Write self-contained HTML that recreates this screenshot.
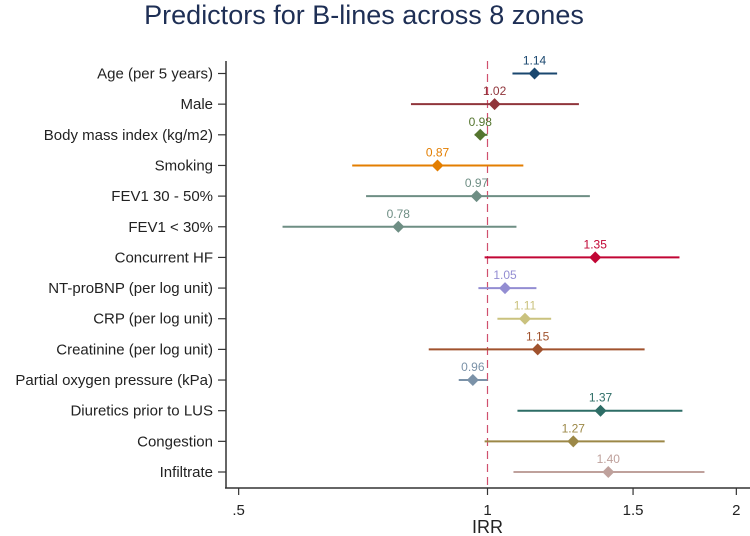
<!DOCTYPE html>
<html><head><meta charset="utf-8"><style>
html,body{margin:0;padding:0;background:#fff;}
svg{display:block;font-family:"Liberation Sans",Arial,sans-serif;}
</style></head><body>
<svg id="chart" width="750" height="536" viewBox="0 0 750 536">
<text x="364" y="24" text-anchor="middle" font-size="27" fill="#1e2f55">Predictors for B-lines across 8 zones</text>
<g id="plot"></g>
</svg>
<script>
const categories = ["Age (per 5 years)","Male","Body mass index (kg/m2)","Smoking","FEV1 30 - 50%","FEV1 < 30%","Concurrent HF","NT-proBNP (per log unit)","CRP (per log unit)","Creatinine (per log unit)","Partial oxygen pressure (kPa)","Diuretics prior to LUS","Congestion","Infiltrate"];
const estimates = [1.14,1.02,0.98,0.87,0.97,0.78,1.35,1.05,1.11,1.15,0.96,1.37,1.27,1.40];
const lowerCI = [1.072,0.808,0.965,0.686,0.713,0.565,0.992,0.975,1.028,0.849,0.923,1.087,0.992,1.075];
const upperCI = [1.214,1.29,1.0,1.105,1.33,1.084,1.707,1.146,1.194,1.549,1.0,1.721,1.638,1.83];
const valueLabels = ["1.14","1.02","0.98","0.87","0.97","0.78","1.35","1.05","1.11","1.15","0.96","1.37","1.27","1.40"];
const tickValues = [0.5,1,1.5,2];
const tickLabels = [".5","1","1.5","2"];
const colors = ["#1a476f","#90353b","#55752f","#e37e00","#6e8e84","#6e8e84","#c10534","#938dd2","#cac27e","#a0522d","#7b92a8","#2d6d66","#9c8847","#bfa19c"];

const NS="http://www.w3.org/2000/svg";
const g=document.getElementById('plot');
const xS=v=>487.5+359*Math.log(v);
const yS=i=>73.5+i*(472-73.5)/(categories.length-1);
function mk(t,a,p){const e=document.createElementNS(NS,t);for(const k in a)e.setAttribute(k,a[k]);(p||g).appendChild(e);return e;}

const ax=mk('line',{x1:226,y1:61,x2:226,y2:488,stroke:'#333','stroke-width':1.5});


const bx=mk('line',{x1:225,y1:488,x2:750,y2:488,stroke:'#333','stroke-width':1.5});


const ref=mk('line',{x1:xS(1),y1:61,x2:xS(1),y2:488,stroke:'#d0506e','stroke-width':1.2,'stroke-dasharray':'8,5'});



tickValues.forEach((v,i)=>{
  const t=mk('line',{x1:xS(v),y1:488,x2:xS(v),y2:495,stroke:'#333','stroke-width':1.2});
  
  
  const l=mk('text',{x:xS(v),y:515,'text-anchor':'middle','font-size':15,fill:'#222'});
  
  
  l.textContent=tickLabels[i];
});
const xt=mk('text',{x:xS(1),y:533,'text-anchor':'middle','font-size':18,fill:'#222'});


xt.textContent='IRR';

categories.forEach((c,i)=>{
  const y=yS(i);
  const tk=mk('line',{x1:218,y1:y,x2:226,y2:y,stroke:'#333','stroke-width':1.2});
  
  
  const lb=mk('text',{x:213,y:y+5,'text-anchor':'end','font-size':15,fill:'#222'});
  
  
  lb.textContent=c;
  const ci=mk('line',{x1:xS(lowerCI[i]),y1:y,x2:xS(upperCI[i]),y2:y,stroke:colors[i],'stroke-width':2});
  
  
  const x=xS(estimates[i]);
  const d=mk('polygon',{points:`${x},${y-6} ${x+6},${y} ${x},${y+6} ${x-6},${y}`,fill:colors[i]});
  
  
  const vl=mk('text',{x:x,y:y-9,'text-anchor':'middle','font-size':12,fill:colors[i]});
  
  
  vl.textContent=valueLabels[i];
});
</script>
</body></html>
